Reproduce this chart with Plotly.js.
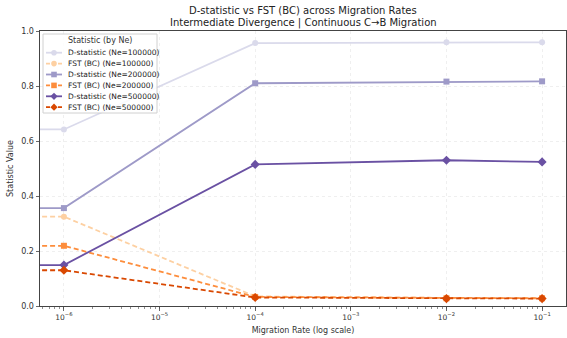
<!DOCTYPE html>
<html>
<head>
<meta charset="utf-8">
<script src="https://cdn.plot.ly/plotly-3.0.1.min.js"></script>
<style>html,body{margin:0;padding:0;background:#fff;}#chart{width:567px;height:338px;}</style>
</head>
<body>
<div id="chart"></div>
<script>
// ---- data ----
// Migration rate 0 cannot sit on a log axis; it is drawn at a tiny stand-in rate (off the left edge)
var zeroRateStandIn = 1e-12;
var migrationRates = [1e-6, 1e-4, 1e-2, 1e-1];
var neLabels = ['100000', '200000', '500000'];

var dStat100k = [0.642, 0.642, 0.956, 0.959, 0.959];
var dStat200k = [0.356, 0.356, 0.810, 0.816, 0.817];
var dStat500k = [0.149, 0.149, 0.515, 0.530, 0.524];
var fst100k   = [0.325, 0.325, 0.035, 0.029, 0.029];
var fst200k   = [0.219, 0.219, 0.033, 0.028, 0.028];
var fst500k   = [0.130, 0.130, 0.031, 0.027, 0.027];

var xTickVals = [1e-6, 1e-5, 1e-4, 1e-3, 1e-2, 1e-1];
var xTickText = ['10<sup>−6</sup>', '10<sup>−5</sup>', '10<sup>−4</sup>', '10<sup>−3</sup>', '10<sup>−2</sup>', '10<sup>−1</sup>'];
var yTickVals = [0, 0.2, 0.4, 0.6, 0.8, 1.0];
var titleLines = ['D-statistic vs FST (BC) across Migration Rates', 'Intermediate Divergence | Continuous C→B Migration'];

// ---- styling ----
var FONT = 'DejaVu Sans, sans-serif';
var colD = ['#dadaeb', '#9e9ac8', '#6a51a3'];
var colF = ['#fdd0a2', '#fd8d3c', '#d94801'];
var symbols = ['circle', 'square', 'diamond'];
var dSeries = [dStat100k, dStat200k, dStat500k];
var fSeries = [fst100k, fst200k, fst500k];

var xs = [zeroRateStandIn].concat(migrationRates);
var traces = [];
for (var i = 0; i < 3; i++) {
  traces.push({
    x: xs, y: dSeries[i], type: 'scatter', mode: 'lines+markers',
    name: 'D-statistic (Ne=' + neLabels[i] + ')',
    line: {color: colD[i], width: 1.8},
    marker: {color: colD[i], symbol: symbols[i], size: i === 2 ? 7 : 6},
    showlegend: false, cliponaxis: true
  });
  traces.push({
    x: xs, y: fSeries[i], type: 'scatter', mode: 'lines+markers',
    name: 'FST (BC) (Ne=' + neLabels[i] + ')',
    line: {color: colF[i], width: 1.8, dash: '5px,3px'},
    marker: {color: colF[i], symbol: symbols[i], size: i === 2 ? 7 : 6},
    showlegend: false, cliponaxis: true
  });
}

// ---- hand-built legend (matplotlib-like compact legend) ----
var L = 40, T = 31, W = 526, H = 275;
function px(x) { return (x - L) / W; }
function py(y) { return (T + H - y) / H; }
var shapes = [], annotations = [];
annotations.push({xref: 'paper', yref: 'paper', x: 0.5, y: py(10.5), text: titleLines[0], showarrow: false,
  xanchor: 'center', yanchor: 'middle', font: {family: FONT, size: 10, color: '#222'}});
annotations.push({xref: 'paper', yref: 'paper', x: 0.5, y: py(23.5), text: titleLines[1], showarrow: false,
  xanchor: 'center', yanchor: 'middle', font: {family: FONT, size: 10, color: '#222'}});
shapes.push({type: 'rect', xref: 'paper', yref: 'paper', x0: px(43), x1: px(157), y0: py(113), y1: py(34),
  line: {color: '#d0d0d0', width: 1}, fillcolor: 'rgba(255,255,255,0.85)', layer: 'above'});
annotations.push({xref: 'paper', yref: 'paper', x: px(100), y: py(40), text: 'Statistic (by Ne)', showarrow: false,
  xanchor: 'center', yanchor: 'middle', font: {family: FONT, size: 8, color: '#333'}});
var legendOrder = [];
for (var k = 0; k < 3; k++) {
  legendOrder.push({name: 'D-statistic (Ne=' + neLabels[k] + ')', color: colD[k], dash: 'solid', sym: symbols[k]});
  legendOrder.push({name: 'FST (BC) (Ne=' + neLabels[k] + ')', color: colF[k], dash: 'dash', sym: symbols[k]});
}
legendOrder.forEach(function (it, j) {
  var yy = 52.7 + j * 10.9;
  shapes.push({type: 'line', xref: 'paper', yref: 'paper', x0: px(46), x1: px(62), y0: py(yy), y1: py(yy),
    line: {color: it.color, width: 1.8, dash: it.dash === 'dash' ? '4px,2px' : 'solid'}, layer: 'above'});
  var cx = 54, r = 2.8;
  if (it.sym === 'circle') {
    shapes.push({type: 'circle', xref: 'paper', yref: 'paper', x0: px(cx - r), x1: px(cx + r), y0: py(yy + r), y1: py(yy - r),
      fillcolor: it.color, line: {width: 0}, layer: 'above'});
  } else if (it.sym === 'square') {
    shapes.push({type: 'rect', xref: 'paper', yref: 'paper', x0: px(cx - r), x1: px(cx + r), y0: py(yy + r), y1: py(yy - r),
      fillcolor: it.color, line: {width: 0}, layer: 'above'});
  } else {
    var d = 3.6;
    shapes.push({type: 'path', xref: 'paper', yref: 'paper',
      path: 'M' + px(cx) + ',' + py(yy - d) + ' L' + px(cx + d) + ',' + py(yy) + ' L' + px(cx) + ',' + py(yy + d) + ' L' + px(cx - d) + ',' + py(yy) + ' Z',
      fillcolor: it.color, line: {width: 0}, layer: 'above'});
  }
  annotations.push({xref: 'paper', yref: 'paper', x: px(65.5), y: py(yy), text: it.name, showarrow: false,
    xanchor: 'left', yanchor: 'middle', font: {family: FONT, size: 7.5, color: '#222'}});
});

var layout = {
  width: 567, height: 338,
  margin: {l: L, r: 567 - L - W, t: T, b: 338 - T - H, pad: 0},
  paper_bgcolor: '#fff', plot_bgcolor: '#fff',
  font: {family: FONT, size: 8, color: '#333'},
  showlegend: false,
  xaxis: {
    type: 'log', range: [-6.25, -0.75], tickvals: xTickVals, ticktext: xTickText,
    ticks: 'outside', ticklen: 3.5, tickwidth: 0.8, tickcolor: '#444',
    showline: true, linecolor: '#444', linewidth: 1, mirror: true,
    showgrid: true, gridcolor: '#e4e4e4', gridwidth: 0.6, griddash: 'dot',
    zeroline: false, tickfont: {family: FONT, size: 7.5, color: '#333'},
    minor: {ticks: 'outside', ticklen: 2, tickcolor: '#444', tickwidth: 0.6, dtick: 'D1', showgrid: false},
    title: {text: 'Migration Rate (log scale)', font: {family: FONT, size: 8, color: '#333'}, standoff: 6}
  },
  yaxis: {
    range: [0, 1], tickvals: yTickVals, tickformat: '.1f',
    ticks: 'outside', ticklen: 3.5, tickwidth: 0.8, tickcolor: '#444',
    showline: true, linecolor: '#444', linewidth: 1, mirror: true,
    showgrid: true, gridcolor: '#e4e4e4', gridwidth: 0.6, griddash: 'dot',
    zeroline: false, tickfont: {family: FONT, size: 8, color: '#333'},
    title: {text: 'Statistic Value', font: {family: FONT, size: 8, color: '#333'}, standoff: 6}
  },
  shapes: shapes,
  annotations: annotations
};

Plotly.newPlot('chart', traces, layout, {displayModeBar: false, staticPlot: true});
</script>
</body>
</html>
